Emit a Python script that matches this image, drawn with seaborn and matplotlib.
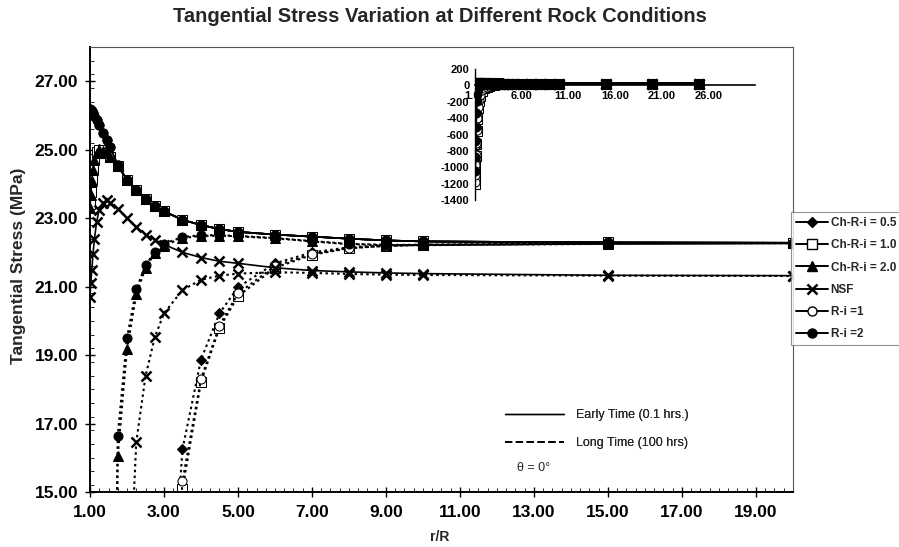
import numpy as np
import pandas as pd
import matplotlib
matplotlib.use("Agg")
import matplotlib.pyplot as plt
from matplotlib.lines import Line2D
from matplotlib.ticker import MultipleLocator, FixedLocator, FormatStrFormatter
import seaborn as sns

# ---------------- data ----------------
r_over_R = [1.00, 1.02, 1.05, 1.08, 1.12, 1.18, 1.25, 1.35, 1.45, 1.55, 1.75,
            2.00, 2.25, 2.50, 2.75, 3.00, 3.50, 4.00, 4.50, 5.00, 6.00, 7.00,
            8.00, 9.00, 10.00, 15.00, 20.00, 25.00]

series_names = ["Ch-R-i = 0.5", "Ch-R-i = 1.0", "Ch-R-i = 2.0", "NSF", "R-i =1", "R-i =2"]

# Early time (0.1 hrs), tangential stress in MPa
early_ch05 = [23.60, 23.90, 24.25, 24.52, 24.76, 24.94, 25.02, 25.00, 24.92, 24.82, 24.53,
              24.12, 23.82, 23.55, 23.35, 23.20, 22.95, 22.80, 22.68, 22.60, 22.52, 22.46,
              22.40, 22.35, 22.32, 22.29, 22.28, 22.27]
early_ch10 = [23.40, 23.75, 24.15, 24.45, 24.72, 24.92, 25.00, 24.98, 24.90, 24.80, 24.52,
              24.12, 23.82, 23.55, 23.35, 23.20, 22.95, 22.80, 22.68, 22.60, 22.52, 22.46,
              22.40, 22.35, 22.32, 22.29, 22.28, 22.27]
early_ch20 = [23.30, 23.68, 24.10, 24.42, 24.70, 24.90, 24.99, 24.97, 24.89, 24.79, 24.52,
              24.12, 23.82, 23.55, 23.35, 23.20, 22.95, 22.80, 22.68, 22.60, 22.52, 22.46,
              22.40, 22.35, 22.32, 22.29, 22.28, 22.27]
early_nsf = [20.70, 21.10, 21.50, 21.95, 22.40, 22.90, 23.25, 23.45, 23.52, 23.45, 23.28,
             23.00, 22.75, 22.52, 22.37, 22.23, 22.00, 21.85, 21.74, 21.68, 21.55, 21.47,
             21.43, 21.40, 21.38, 21.33, 21.32, 21.31]
early_ri1 = [26.20, 26.17, 26.12, 26.06, 25.98, 25.86, 25.72, 25.50, 25.28, 25.07, 24.55,
             24.12, 23.82, 23.55, 23.35, 23.20, 22.95, 22.80, 22.68, 22.60, 22.52, 22.46,
             22.40, 22.35, 22.32, 22.29, 22.28, 22.27]
early_ri2 = [26.20, 26.17, 26.12, 26.06, 25.98, 25.86, 25.72, 25.50, 25.28, 25.07, 24.55,
             24.12, 23.82, 23.55, 23.35, 23.20, 22.95, 22.80, 22.68, 22.60, 22.52, 22.46,
             22.40, 22.35, 22.32, 22.29, 22.28, 22.27]

# Long time (100 hrs), tangential stress in MPa
long_ch05 = [-1150, -1060, -940, -820, -680, -520, -380, -250, -165, -110, -55,
             -25, -10, -2, 3.5, 8.5, 16.25, 18.87, 20.22, 20.98, 21.68, 22.00,
             22.15, 22.20, 22.22, 22.26, 22.27, 22.27]
long_ch10 = [-1200, -1110, -990, -860, -720, -560, -410, -275, -185, -125, -65,
             -32, -15, -5, 1.0, 6.0, 15.10, 18.22, 19.80, 20.72, 21.55, 21.93,
             22.12, 22.19, 22.22, 22.26, 22.27, 22.27]
long_ch20 = [-1000, -850, -660, -500, -340, -195, -105, -48, -17, -1.0, 16.05,
             19.18, 20.77, 21.55, 21.97, 22.20, 22.42, 22.48, 22.49, 22.47, 22.41, 22.32,
             22.24, 22.21, 22.21, 22.25, 22.27, 22.27]
long_nsf = [-700, -600, -480, -380, -280, -180, -110, -60, -32, -15, -2,
            10.5, 16.45, 18.38, 19.52, 20.22, 20.90, 21.20, 21.32, 21.38, 21.42, 21.40,
            21.37, 21.35, 21.34, 21.32, 21.31, 21.31]
long_ri1 = [-1180, -1090, -970, -845, -705, -548, -400, -268, -180, -121, -62,
            -30, -14, -4, 1.5, 6.5, 15.32, 18.30, 19.86, 20.80, 21.60, 21.95,
            22.13, 22.19, 22.22, 22.26, 22.27, 22.27]
long_ri2 = [-1050, -880, -680, -510, -340, -190, -100, -45, -15, 0.5, 16.65,
            19.50, 20.92, 21.62, 22.02, 22.25, 22.45, 22.50, 22.50, 22.48, 22.42, 22.33,
            22.25, 22.22, 22.22, 22.25, 22.27, 22.27]

early_values = [early_ch05, early_ch10, early_ch20, early_nsf, early_ri1, early_ri2]
long_values = [long_ch05, long_ch10, long_ch20, long_nsf, long_ri1, long_ri2]

main_xticks = [1, 3, 5, 7, 9, 11, 13, 15, 17, 19]
main_yticks = [15, 17, 19, 21, 23, 25, 27]
inset_xticks = [1, 6, 11, 16, 21, 26]
inset_yticks = [200, 0, -200, -400, -600, -800, -1000, -1200, -1400]

# ---------------- styling ----------------
sns.set_theme(style="white")
plt.rcParams["font.family"] = ["Liberation Sans", "DejaVu Sans"]

marker_styles = {
    "Ch-R-i = 0.5": dict(marker="D", markerfacecolor="black", markersize=5.5),
    "Ch-R-i = 1.0": dict(marker="s", markerfacecolor="white", markersize=6.5),
    "Ch-R-i = 2.0": dict(marker="^", markerfacecolor="black", markersize=6.5),
    "NSF": dict(marker="x", markerfacecolor="black", markersize=6.5, markeredgewidth=1.8),
    "R-i =1": dict(marker="o", markerfacecolor="white", markersize=6.5),
    "R-i =2": dict(marker="o", markerfacecolor="black", markersize=6.5),
}
long_dash = (0, (1.2, 1.6))

fig = plt.figure(figsize=(8.99, 5.47), dpi=100)
ax = fig.add_axes([90 / 899, 1 - 492 / 547, (793 - 90) / 899, (492 - 47) / 547])


def draw_series(target, x, y, name, linestyle, lw, scale=1.0):
    style = dict(marker_styles[name])
    style["markersize"] = style["markersize"] * scale
    df = pd.DataFrame({"r": x, "s": y})
    sns.lineplot(data=df, x="r", y="s", ax=target, color="black", linestyle=linestyle,
                 linewidth=lw, markeredgecolor="black", estimator=None, sort=False,
                 legend=False, **style)


for name, vals in zip(series_names, long_values):
    draw_series(ax, r_over_R, vals, name, long_dash, 1.5)
for name, vals in zip(series_names, early_values):
    draw_series(ax, r_over_R, vals, name, "-", 1.2)

ax.set_xlim(1, 20)
ax.set_ylim(15, 28)
ax.xaxis.set_major_locator(FixedLocator(main_xticks))
ax.yaxis.set_major_locator(FixedLocator(main_yticks))
ax.xaxis.set_minor_locator(MultipleLocator(0.25))
ax.yaxis.set_minor_locator(MultipleLocator(0.4))
ax.xaxis.set_major_formatter(FormatStrFormatter("%.2f"))
ax.yaxis.set_major_formatter(FormatStrFormatter("%.2f"))
ax.tick_params(axis="both", which="major", direction="inout", length=7, width=1,
               labelsize=12.5, colors="black")
ax.tick_params(axis="x", which="major", pad=6)
ax.tick_params(axis="y", which="major", pad=5)
ax.tick_params(axis="both", which="minor", direction="in", length=3, width=0.7)
ax.tick_params(axis="x", which="both", bottom=True, top=False)
ax.tick_params(axis="y", which="both", left=True, right=False)
for lab in ax.get_xticklabels() + ax.get_yticklabels():
    lab.set_fontweight("bold")
for side in ["left", "bottom"]:
    ax.spines[side].set_color("black")
    ax.spines[side].set_linewidth(1.4)
for side in ["top", "right"]:
    ax.spines[side].set_color("#555555")
    ax.spines[side].set_linewidth(0.8)
ax.set_xlabel("")
ax.set_ylabel("")

fig.text(440 / 899, 1 - 16 / 547, "Tangential Stress Variation at Different Rock Conditions",
         ha="center", va="center", fontsize=14.5, fontweight="bold")
fig.text(440 / 899, 1 - 537 / 547, "r/R", ha="center", va="center", fontsize=10,
         fontweight="bold")
fig.text(19 / 899, 1 - 266 / 547, "Tangential Stress (MPa)", ha="center", va="center",
         rotation=90, fontsize=12.5, fontweight="bold")

# series legend on the right
handles = []
for name in series_names:
    st = dict(marker_styles[name])
    handles.append(Line2D([], [], color="black", linestyle="-", linewidth=1.4,
                          markeredgecolor="black", **st))
leg = fig.legend(handles, series_names, loc="upper left",
                 bbox_to_anchor=(791 / 899, 1 - 212 / 547), frameon=True, fancybox=False,
                 fontsize=8.5, handlelength=2.7, handletextpad=0.2, labelspacing=0.86,
                 borderpad=0.45, borderaxespad=0.0)
leg.get_frame().set_edgecolor("#777777")
leg.get_frame().set_linewidth(0.8)
for t in leg.get_texts():
    t.set_fontweight("bold")

# time legend inside the plot
time_handles = [Line2D([], [], color="black", linestyle="-", linewidth=1.0),
                Line2D([], [], color="black", linestyle=(0, (4, 2)), linewidth=1.3)]
tleg = ax.legend(time_handles, ["Early Time (0.1 hrs.)", "Long Time (100 hrs)"],
                 loc="upper left", bbox_to_anchor=((505 - 90) / 703, (492 - 409) / 445),
                 frameon=False, fontsize=9, handlelength=4.7, handletextpad=1.0,
                 labelspacing=1.3, borderaxespad=0.0, borderpad=0.0)
ax.add_artist(tleg)
ax.text((517 - 90) / 703, (492 - 468) / 445, "θ = 0°", transform=ax.transAxes,
        fontsize=9, ha="left", va="center")

# inset with the full range of stresses
axin = fig.add_axes([475 / 899, 1 - 200 / 547, 280 / 899, 131 / 547])
axin.patch.set_alpha(0)
for name, vals in zip(series_names, long_values):
    draw_series(axin, r_over_R, vals, name, "-", 1.8, scale=1.0)
for name, vals in zip(series_names, early_values):
    draw_series(axin, r_over_R, vals, name, "-", 1.8, scale=1.0)
axin.set_xlim(1, 31)
axin.set_ylim(-1400, 200)
axin.xaxis.set_major_locator(FixedLocator(inset_xticks))
axin.yaxis.set_major_locator(FixedLocator(inset_yticks))
axin.yaxis.set_minor_locator(MultipleLocator(50))
axin.xaxis.set_major_formatter(FormatStrFormatter("%.2f"))
axin.yaxis.set_major_formatter(FormatStrFormatter("%d"))
axin.spines["bottom"].set_position(("data", 0))
axin.spines["top"].set_visible(False)
axin.spines["right"].set_visible(False)
axin.spines["left"].set_color("black")
axin.spines["bottom"].set_color("black")
axin.spines["left"].set_linewidth(1.0)
axin.spines["bottom"].set_linewidth(1.2)
axin.tick_params(axis="both", which="major", direction="inout", length=4, width=0.8,
                 labelsize=8, colors="black", pad=2)
axin.tick_params(axis="y", which="minor", direction="in", length=2, width=0.5)
for lab in axin.get_xticklabels() + axin.get_yticklabels():
    lab.set_fontweight("bold")
axin.set_xlabel("")
axin.set_ylabel("")

fig.savefig("out.png", dpi=100)
